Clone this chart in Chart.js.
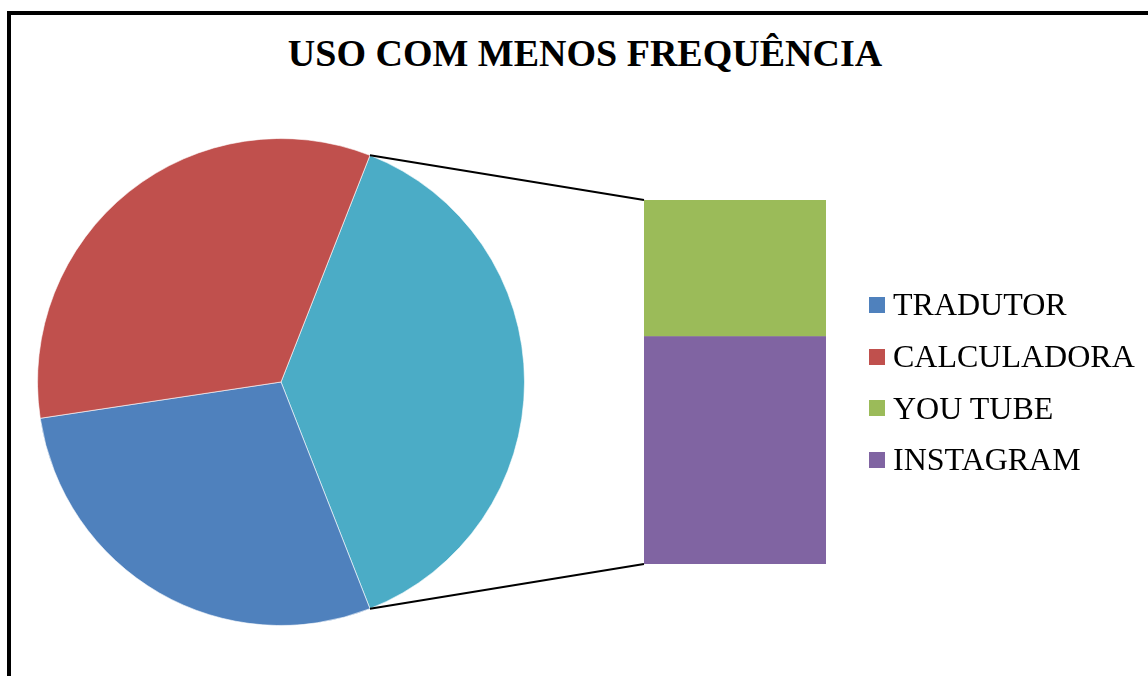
<!DOCTYPE html>
<html>
<head>
<meta charset="utf-8">
<script src="https://cdn.jsdelivr.net/npm/chart.js@4.4.1/dist/chart.umd.min.js"></script>
<style>
  html, body { margin: 0; padding: 0; background: #fff; }
  #wrap { position: relative; width: 1148px; height: 676px; overflow: hidden; background: #fff; }
  #frame { position: absolute; left: 7px; top: 11px; width: 1160px; height: 700px; border: 4px solid #000; box-sizing: border-box; }
  #title { position: absolute; left: 0; top: 30px; width: 1170px; text-align: center;
           font-family: "Liberation Serif", "Times New Roman", serif; font-weight: bold; font-size: 38px; color: #000; line-height: 46px; }
  #pieCanvas { position: absolute; left: 37px; top: 138px; }
  #barCanvas { position: absolute; left: 0; top: 0; }
  #legend { position: absolute; left: 869px; top: 279px; font-family: "Liberation Serif", "Times New Roman", serif; font-size: 32px; color: #000; }
  .item { display: flex; align-items: center; height: 51.7px; }
  .sw { width: 16px; height: 16px; margin-right: 8px; flex: none; }
</style>
</head>
<body>
<div id="wrap">
  <div id="frame"></div>
  <div id="title">USO COM MENOS FREQUÊNCIA</div>
  <canvas id="pieCanvas" width="488" height="488"></canvas>
  <canvas id="barCanvas" width="1148" height="676"></canvas>
  <div id="legend"></div>
</div>
<script>
// Data
const pieCategories = ["TRADUTOR", "CALCULADORA"];
const pieValues = [6, 7];
const barCategories = ["YOU TUBE", "INSTAGRAM"];
const barValues = [3, 5];
const pieColors = ["#4F81BD", "#C0504D"];
const barColors = ["#9BBB59", "#8064A2"];
const otherColor = "#4BACC6";

const otherValue = barValues.reduce((a, b) => a + b, 0);
const total = otherValue + pieValues.reduce((a, b) => a + b, 0);

// Pie: "Other" slice centered on the right side
const pieChart = new Chart(document.getElementById("pieCanvas"), {
  type: "pie",
  data: {
    labels: ["OUTROS"].concat(pieCategories),
    datasets: [{
      data: [otherValue].concat(pieValues),
      backgroundColor: [otherColor].concat(pieColors),
      borderColor: "rgba(255,255,255,0.6)",
      borderWidth: 1
    }]
  },
  options: {
    responsive: false,
    animation: false,
    rotation: 90 - (otherValue / total) * 180,
    layout: { padding: 0 },
    plugins: { legend: { display: false }, title: { display: false }, tooltip: { enabled: false } }
  }
});

// Connector lines plugin
const connectorPlugin = {
  id: "connectors",
  afterDatasetsDraw(chart) {
    const arc = pieChart.getDatasetMeta(0).data[0];
    if (!arc) return;
    const pc = document.getElementById("pieCanvas");
    const ox = pc.offsetLeft, oy = pc.offsetTop;
    const r = arc.outerRadius;
    const sx = ox + arc.x + r * Math.cos(arc.startAngle), sy = oy + arc.y + r * Math.sin(arc.startAngle);
    const ex = ox + arc.x + r * Math.cos(arc.endAngle), ey = oy + arc.y + r * Math.sin(arc.endAngle);
    const topBar = chart.getDatasetMeta(1).data[0];
    const botBar = chart.getDatasetMeta(0).data[0];
    const left = topBar.x - topBar.width / 2;
    const ctx = chart.ctx;
    ctx.save();
    ctx.strokeStyle = "#000";
    ctx.lineWidth = 2;
    ctx.beginPath();
    ctx.moveTo(sx, sy); ctx.lineTo(left, topBar.y);
    ctx.moveTo(ex, ey); ctx.lineTo(left, botBar.base);
    ctx.stroke();
    ctx.restore();
  }
};

// Stacked bar (bottom dataset first)
new Chart(document.getElementById("barCanvas"), {
  type: "bar",
  data: {
    labels: [""],
    datasets: [
      { label: barCategories[1], data: [barValues[1]], backgroundColor: barColors[1], borderWidth: 0, categoryPercentage: 1, barPercentage: 1 },
      { label: barCategories[0], data: [barValues[0]], backgroundColor: barColors[0], borderWidth: 0, categoryPercentage: 1, barPercentage: 1 }
    ]
  },
  options: {
    responsive: false,
    animation: false,
    layout: { padding: { left: 644, right: 322, top: 200, bottom: 112 } },
    scales: {
      x: { stacked: true, display: false },
      y: { stacked: true, display: false, min: 0, max: otherValue }
    },
    plugins: { legend: { display: false }, title: { display: false }, tooltip: { enabled: false } }
  },
  plugins: [connectorPlugin]
});

// Legend
const legendEl = document.getElementById("legend");
const legendItems = pieCategories.map((c, i) => [c, pieColors[i]]).concat(barCategories.map((c, i) => [c, barColors[i]]));
legendItems.forEach(([label, color]) => {
  const d = document.createElement("div");
  d.className = "item";
  d.innerHTML = '<span class="sw" style="background:' + color + '"></span><span>' + label + '</span>';
  legendEl.appendChild(d);
});
</script>
</body>
</html>
